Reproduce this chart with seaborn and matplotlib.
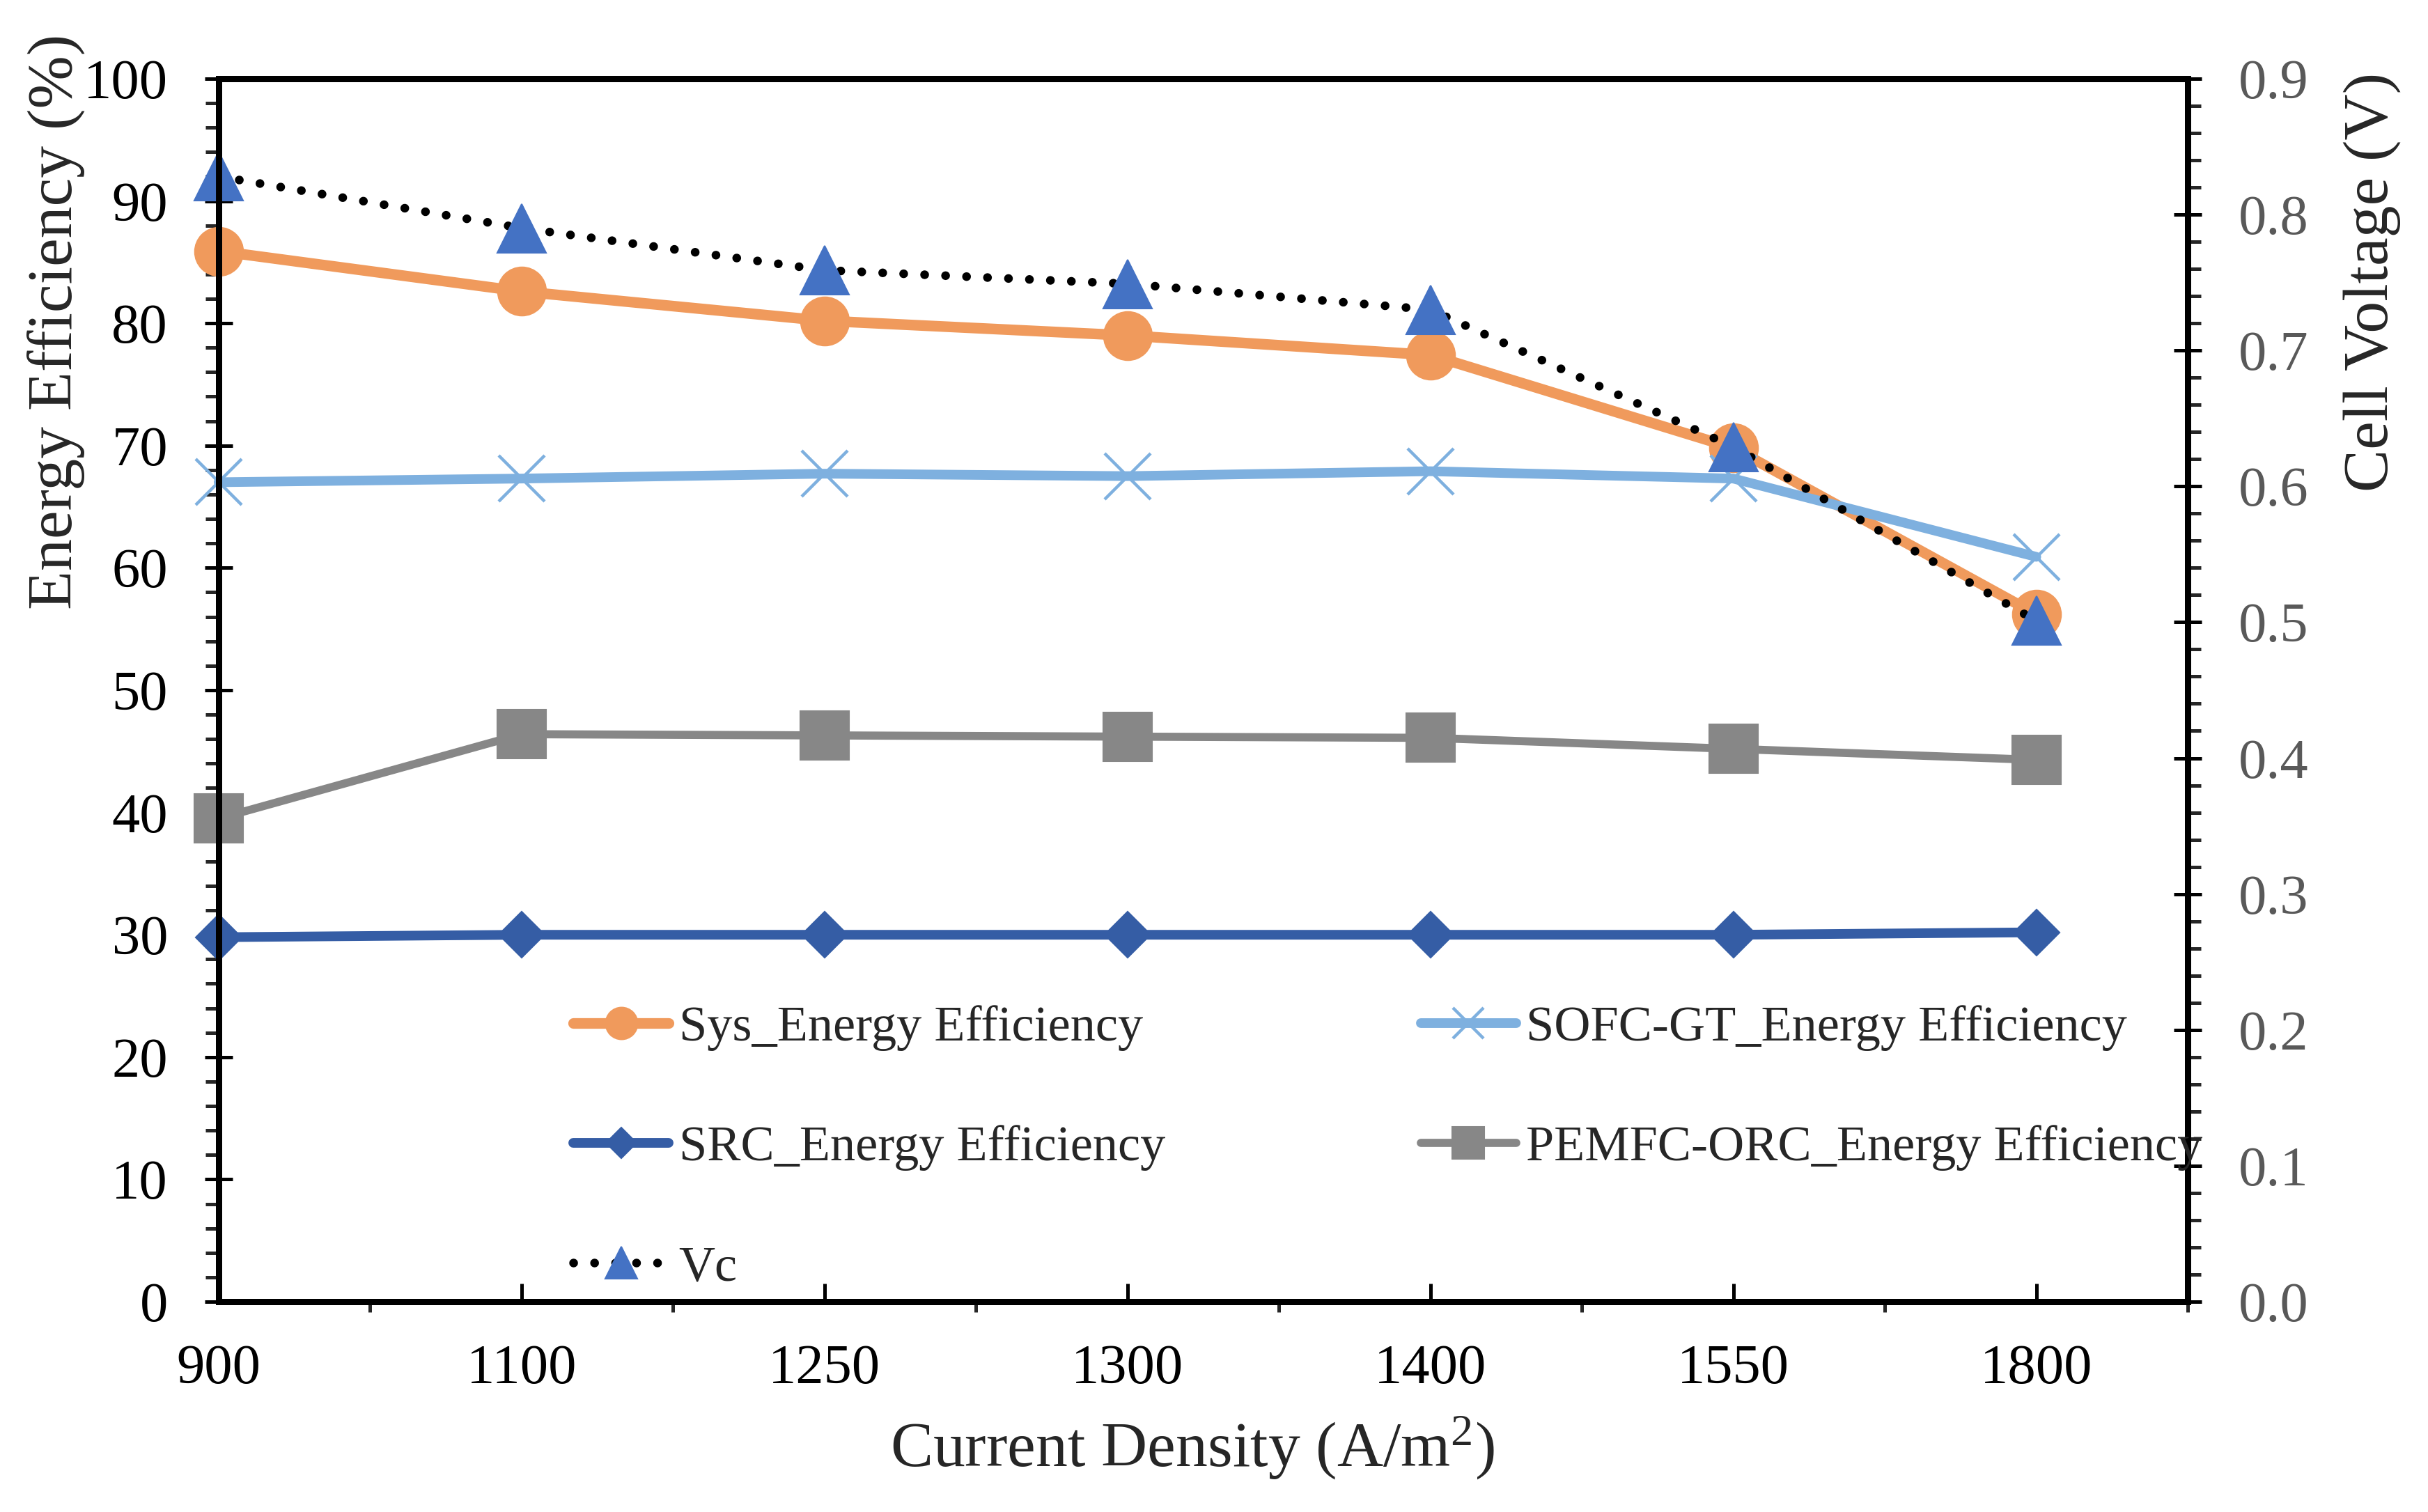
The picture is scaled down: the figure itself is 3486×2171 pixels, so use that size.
import numpy as np
import matplotlib
matplotlib.use("Agg")
import matplotlib.pyplot as plt
import seaborn as sns
from matplotlib.ticker import MultipleLocator, FormatStrFormatter

# data
current_density = ["900", "1100", "1250", "1300", "1400", "1550", "1800"]
sys_eff = [85.9, 82.6, 80.2, 79.0, 77.4, 69.8, 56.2]
sofc_gt_eff = [67.0, 67.3, 67.7, 67.5, 67.9, 67.3, 60.9]
src_eff = [29.8, 30.0, 30.0, 30.0, 30.0, 30.0, 30.2]
pemfc_orc_eff = [39.5, 46.4, 46.3, 46.2, 46.1, 45.2, 44.3]
vc = [0.828, 0.790, 0.759, 0.749, 0.730, 0.629, 0.501]

sns.set_theme(style="ticks")
plt.rcParams["font.family"] = ["Liberation Serif", "DejaVu Serif"]
plt.rcParams["mathtext.fontset"] = "custom"
plt.rcParams["mathtext.rm"] = "Liberation Serif"
plt.rcParams["mathtext.it"] = "Liberation Serif:italic"

x = np.arange(len(current_density))

fig = plt.figure(figsize=(17.435, 10.855), dpi=200)
ax = fig.add_axes([0.0900, 0.1391, 0.8108, 0.8089])
ax2 = ax.twinx()

# left axis series
sns.lineplot(x=x, y=sys_eff, ax=ax, color="#F09A5C", lw=5.5, marker="o", ms=25,
             mec="#F09A5C", label="Sys_Energy Efficiency", clip_on=False)
sns.lineplot(x=x, y=src_eff, ax=ax, color="#355DA5", lw=5, marker="D", ms=17,
             mec="#355DA5", label="SRC_Energy Efficiency", clip_on=False)
sns.lineplot(x=x, y=sofc_gt_eff, ax=ax, color="#7EB0DF", lw=5, marker="x", ms=24,
             mew=1.6, mec="#7EB0DF", label="SOFC-GT_Energy Efficiency", clip_on=False)
sns.lineplot(x=x, y=pemfc_orc_eff, ax=ax, color="#878787", lw=4.2, marker="s", ms=25,
             mec="#878787", label="PEMFC-ORC_Energy Efficiency", clip_on=False)

# right axis: cell voltage
sns.lineplot(x=x, y=vc, ax=ax2, color="black", lw=4.5, ls=(0, (0.01, 2.4)),
             dash_capstyle="round", marker="^", ms=25, mfc="#4472C4", mec="#4472C4",
             label="Vc", clip_on=False)

ax.set_xlim(0, 6.5)
ax.set_ylim(0, 100)
ax2.set_ylim(0, 0.9)

# axes styling
for a in (ax, ax2):
    for s in a.spines.values():
        s.set_linewidth(3.2)
        s.set_color("black")
    a.grid(False)

ax.set_xticks(x)
ax.set_xticklabels(current_density)
ax.set_xticks(x + 0.5, minor=True)
ax.tick_params(axis="x", which="major", direction="in", length=9.5, width=1.8,
               labelsize=29, pad=22, colors="black")
ax.tick_params(axis="x", which="minor", direction="out", length=5.5, width=1.8)

ax.yaxis.set_major_locator(MultipleLocator(10))
ax.yaxis.set_minor_locator(MultipleLocator(2))
ax.tick_params(axis="y", which="major", direction="inout", length=14.4, width=1.8,
               labelsize=29, pad=19, colors="black")
ax.tick_params(axis="y", which="minor", direction="out", length=6.8, width=1.8)

ax2.yaxis.set_major_locator(MultipleLocator(0.1))
ax2.yaxis.set_minor_locator(MultipleLocator(0.02))
ax2.yaxis.set_major_formatter(FormatStrFormatter("%.1f"))
ax2.tick_params(axis="y", which="major", direction="inout", length=14.4, width=1.8,
                labelsize=29, pad=19, labelcolor="#595959", color="black")
ax2.tick_params(axis="y", which="minor", direction="out", length=6.8, width=1.8)

ax.set_xlabel("")
ax.set_ylabel("")
ax2.set_ylabel("")
ax.get_legend().remove()
ax2.get_legend().remove()

fig.text(0.0229, 0.7872, "Energy Efficiency (%)", rotation=90, ha="center",
         va="center", fontsize=33)
fig.text(0.9765, 0.8135, "Cell Voltage (V)", rotation=90, ha="center",
         va="center", fontsize=33)
fig.text(0.491, 0.0424, "Current Density (A/m$^{2}$)", ha="center", va="center",
         fontsize=33)

# legend: column 1 = Sys, SRC, Vc; column 2 = SOFC-GT, PEMFC-ORC
h1, l1 = ax.get_legend_handles_labels()
h2, l2 = ax2.get_legend_handles_labels()
handles = [h1[0], h1[1], h2[0], h1[2], h1[3]]
labels = [l1[0], l1[1], l2[0], l1[2], l1[3]]
fig.legend(handles, labels, loc="upper left", bbox_to_anchor=(0.236, 0.335),
           ncol=2, frameon=False, fontsize=26, markerscale=0.66,
           handlelength=1.9, handletextpad=0.2, columnspacing=5.08,
           labelspacing=1.47, borderpad=0, borderaxespad=0)

fig.savefig("out.png", dpi=200, facecolor="white")
